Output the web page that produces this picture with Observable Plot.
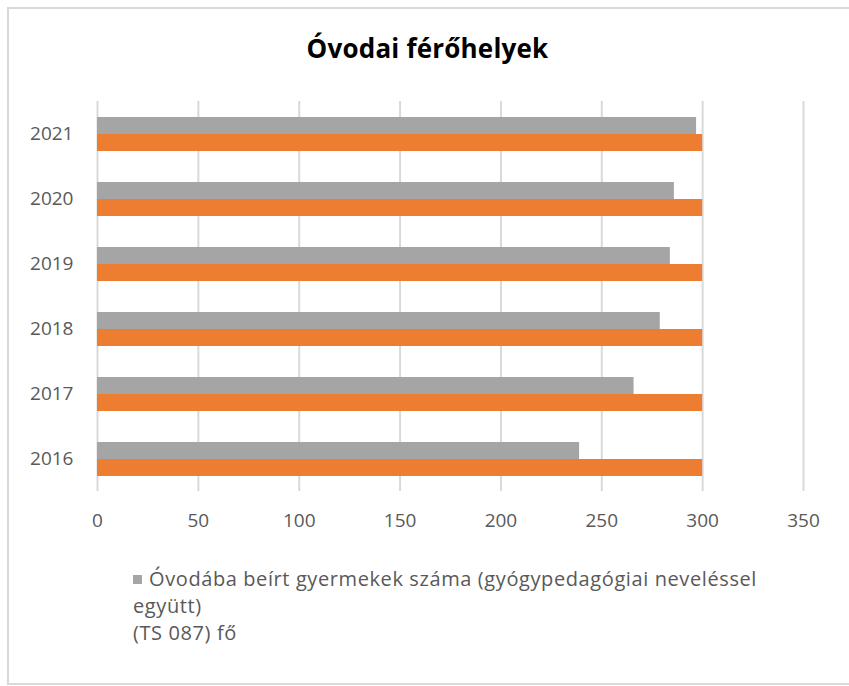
<!DOCTYPE html>
<html>
<head>
<meta charset="utf-8">
<script src="https://cdn.jsdelivr.net/npm/d3@7"></script>
<script src="https://cdn.jsdelivr.net/npm/@observablehq/plot@0.6"></script>
<style>
  body { margin: 0; background: #fff; font-family: "Open Sans", "Noto Sans", sans-serif; }
  #frame { position: absolute; left: 7px; top: 7px; width: 870px; height: 678px; border: 2px solid #d9d9d9; box-sizing: border-box; }
  #title { position: absolute; left: 0; width: 855px; top: 30px; text-align: center; font-size: 26px; font-weight: bold; color: #000; letter-spacing: 0.2px; }
  #chart { position: absolute; left: 0; top: 0; }
  #legend { position: absolute; left: 133px; top: 565px; font-size: 20px; line-height: 27px; color: #595959; width: 700px; letter-spacing: 0.6px; }
  #legend .sw { display: inline-block; width: 9px; height: 9px; background: #a5a5a5; margin-right: 7px; vertical-align: 2px; }
</style>
</head>
<body>
<div id="frame"></div>
<div id="title">Óvodai férőhelyek</div>
<div id="chart"></div>
<div id="legend"><span class="sw"></span>Óvodába beírt gyermekek száma (gyógypedagógiai neveléssel<br>együtt)<br>(TS 087) fő</div>
<script>
const years = ["2016", "2017", "2018", "2019", "2020", "2021"];
const enrolled = [239, 266, 279, 284, 286, 297];
const capacity = [300, 300, 300, 300, 300, 300];
const xTicks = [0, 50, 100, 150, 200, 250, 300, 350];
const seriesNames = ["enrolled", "capacity"];
const seriesColors = ["#a5a5a5", "#ed7d31"];

const tidy = [];
years.forEach((yr, i) => {
  tidy.push({year: yr, series: "enrolled", value: enrolled[i]});
  tidy.push({year: yr, series: "capacity", value: capacity[i]});
});

const plot = Plot.plot({
  width: 849,
  height: 545,
  marginTop: 99,
  marginBottom: 53,
  marginLeft: 97,
  marginRight: 46,
  style: {fontFamily: "'Open Sans', 'Noto Sans', sans-serif", fontSize: "19px", color: "#595959", background: "transparent"},
  facet: {data: tidy, y: "year"},
  fy: {domain: years.slice().reverse(), padding: 0, label: null, tickSize: 0, tickPadding: 24, axis: "left"},
  y: {domain: seriesNames, axis: null, paddingInner: 0, paddingOuter: 0.9},
  x: {domain: [0, 350], ticks: xTicks, tickSize: 0, tickPadding: 22, label: null},
  color: {domain: seriesNames, range: seriesColors},
  marks: [
    Plot.ruleX(xTicks, {stroke: "#d9d9d9", strokeWidth: 2}),
    Plot.barX(tidy, {x: "value", y: "series", fill: "series"})
  ]
});
document.getElementById("chart").appendChild(plot);
</script>
</body>
</html>
